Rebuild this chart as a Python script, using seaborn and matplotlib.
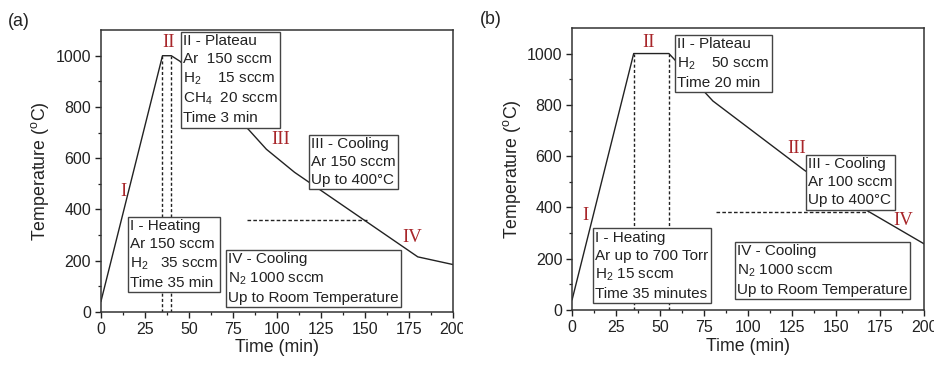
import matplotlib
matplotlib.use("Agg")
import matplotlib.pyplot as plt
import seaborn as sns
import pandas as pd
from matplotlib.transforms import offset_copy, Bbox, TransformedBbox

# Furnace temperature programmes for the two growth recipes
time_a = [0, 35, 40, 45, 84, 94, 110, 180, 200]
temp_a = [40, 1000, 1000, 978, 711, 635, 545, 215, 185]
time_b = [0, 35, 55, 58, 80, 132, 167, 200]
temp_b = [40, 1000, 1000, 978, 815, 545, 390, 258]

# plateau start/end markers (min) and the 400 °C switch-over guide (x0, x1, T)
plateau_a = [35, 40]
plateau_b = [35, 55]
guide_a = (83, 151, 357)
guide_b = (81.6, 168.3, 381)

stage_names = ["I", "II", "III", "IV"]
stage_pos_a = [(12.7, 470), (38.3, 1050), (102, 672), (177, 292)]
stage_pos_b = [(7.7, 367), (43.7, 1042), (127.4, 631), (188, 351)]

notes_a = [
    ((45.5, 1091), "II - Plateau\nAr  150 sccm\nH$_2$    15 sccm\nCH$_4$  20 sccm\nTime 3 min"),
    ((118, 689), "III - Cooling\nAr 150 sccm\nUp to 400°C"),
    ((15.2, 368), "I - Heating\nAr 150 sccm\nH$_2$   35 sccm\nTime 35 min"),
    ((70.8, 239), "IV - Cooling\nN$_2$ 1000 sccm\nUp to Room Temperature"),
]
notes_b = [
    ((58.4, 1071), "II - Plateau\nH$_2$    50 sccm\nTime 20 min"),
    ((132.8, 601), "III - Cooling\nAr 100 sccm\nUp to 400°C"),
    ((11.8, 316), "I - Heating\nAr up to 700 Torr\nH$_2$ 15 sccm\nTime 35 minutes"),
    ((92.4, 263), "IV - Cooling\nN$_2$ 1000 sccm\nUp to Room Temperature"),
]

sns.set_theme(style="ticks")
plt.rcParams["font.family"] = ["Liberation Sans", "DejaVu Sans"]
plt.rcParams["mathtext.fontset"] = "custom"
plt.rcParams["mathtext.rm"] = "Liberation Sans"
plt.rcParams["mathtext.it"] = "Liberation Sans:italic"

fig = plt.figure(figsize=(9.34, 3.67), dpi=100)
ax_a = fig.add_axes([0.108, 0.150, 0.377, 0.768])
ax_b = fig.add_axes([0.6125, 0.155, 0.377, 0.769])

INK = "#222222"
RED = "#a8262a"


def draw_panel(ax, times, temps, plateau, guide, stage_pos, notes, tag, tag_xy):
    df = pd.DataFrame({"Time (min)": times, "Temperature": temps})
    sns.lineplot(data=df, x="Time (min)", y="Temperature", ax=ax,
                 color=INK, lw=1.0, sort=False, zorder=2)
    ax.vlines(plateau, 0, 1000, colors=INK, lw=1.0,
              linestyles=(0, (2.2, 1.6)), zorder=1)
    ax.hlines(guide[2], guide[0], guide[1], colors=INK, lw=1.0,
              linestyles=(0, (2.6, 1.6)), zorder=1)
    for name, (x, y) in zip(stage_names, stage_pos):
        ax.text(x, y, name, color=RED, fontsize=13.5, ha="center", va="center",
                family=["Liberation Serif", "DejaVu Serif"], zorder=4)
    tr = offset_copy(ax.transData, fig=fig, x=2.3, y=-1.5, units="dots")
    for (x, y), txt in notes:
        ax.text(x, y, txt, transform=tr, fontsize=11, ha="left", va="top",
                color=INK, linespacing=1.36, zorder=5,
                bbox=dict(boxstyle="square,pad=0.15", fc="white",
                          ec="#444444", lw=1.0))
    ax.set_xlim(0, 200)
    ax.set_ylim(0, 1100)
    ax.set_xticks(range(0, 201, 25))
    ax.set_xticks([12.5 + 25 * i for i in range(8)], minor=True)
    ax.set_yticks(range(0, 1001, 200))
    ax.set_yticks(range(100, 1100, 200), minor=True)
    ax.set_xlabel("Time (min)", fontsize=12.8, color=INK, labelpad=2)
    ax.set_ylabel("Temperature ($^{\\mathrm{o}}$C)", fontsize=12.8, color=INK, labelpad=3)
    ax.tick_params(which="major", direction="out", length=4, width=1.0,
                   labelsize=11.5, colors=INK, pad=3)
    ax.tick_params(which="minor", direction="out", length=2.5, width=0.9, colors=INK)
    for s in ax.spines.values():
        s.set_visible(True)
        s.set_color("#333333")
        s.set_linewidth(1.1)
    fig.text(tag_xy[0], tag_xy[1], tag, fontsize=12.8, color=INK, ha="left", va="center")


draw_panel(ax_a, time_a, temp_a, plateau_a, guide_a, stage_pos_a, notes_a, "(a)", (8 / 934, 1 - 21.7 / 367))
draw_panel(ax_b, time_b, temp_b, plateau_b, guide_b, stage_pos_b, notes_b, "(b)", (480 / 934, 1 - 20 / 367))

# the left panel's last tick label is trimmed where the right panel begins
fig.canvas.draw()
clip = TransformedBbox(Bbox([[0, 0], [463 / 934, 1]]), fig.transFigure)
for lab in ax_a.get_xticklabels():
    lab.set_clip_box(clip)
    lab.set_clip_on(True)

fig.savefig("out.png", dpi=100)
